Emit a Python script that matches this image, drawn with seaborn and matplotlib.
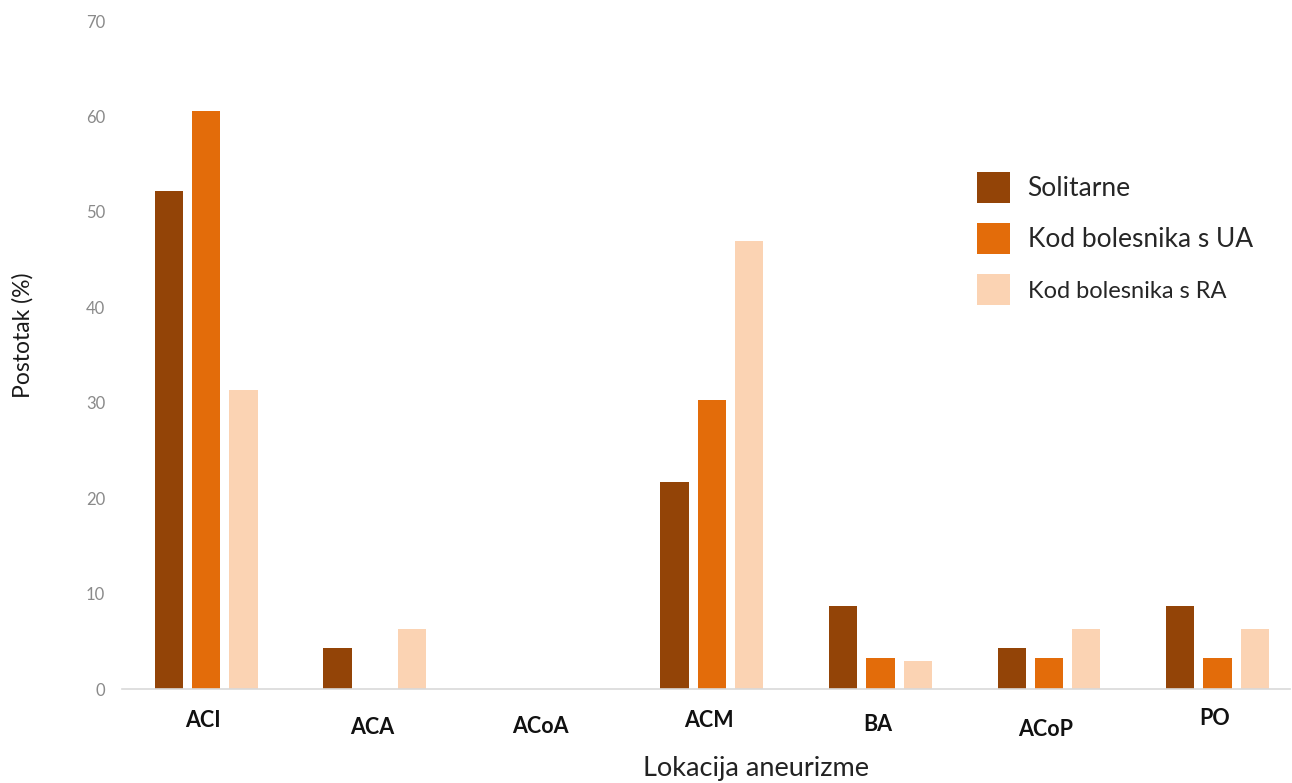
import matplotlib
matplotlib.use("Agg")
import matplotlib.pyplot as plt
from matplotlib.transforms import ScaledTranslation
import seaborn as sns
import pandas as pd

# Aneurysm locations and share of aneurysms (%) per patient group
locations = ["ACI", "ACA", "ACoA", "ACM", "BA", "ACoP", "PO"]
solitarne = [52.2, 4.3, 0.0, 21.7, 8.7, 4.3, 8.7]
kod_ua = [60.6, 0.0, 0.0, 30.3, 3.2, 3.2, 3.2]
kod_ra = [31.3, 6.3, 0.0, 46.9, 2.9, 6.3, 6.3]
series_names = ["Solitarne", "Kod bolesnika s UA", "Kod bolesnika s RA"]
colors = ["#934407", "#E36C0A", "#FBD3B3"]

df = pd.DataFrame({
    "Lokacija": locations * 3,
    "Postotak": solitarne + kod_ua + kod_ra,
    "Skupina": [s for s in series_names for _ in locations],
})

sns.set_theme(style="white")
plt.rcParams["font.family"] = ["Lato", "DejaVu Sans"]

fig = plt.figure(figsize=(12.92, 7.83), dpi=100)
ax = fig.add_axes([122 / 1292, 1 - 689 / 783, (1290 - 122) / 1292, (689 - 21) / 783])

sns.barplot(data=df, x="Lokacija", y="Postotak", hue="Skupina",
            order=locations, hue_order=series_names,
            palette=colors, width=0.664, gap=0.24, ax=ax,
            saturation=1, linewidth=0, legend=True)

ax.set_ylim(0, 70)
ax.set_xlim(-0.50, 6.43)
ax.set_yticks(range(0, 71, 10))
ax.tick_params(axis="y", colors="#8a8a8a", labelsize=12, length=0, pad=12)
ax.tick_params(axis="x", length=0, pad=14)
for lbl in ax.get_xticklabels():
    lbl.set_fontweight("bold")
    lbl.set_fontsize(15.5)
    lbl.set_color("#111111")

# slight vertical offsets of the category labels
offsets = [2, 9, 8, 2, 6, 11, 0]
for lbl, dy in zip(ax.get_xticklabels(), offsets):
    lbl.set_transform(lbl.get_transform() + ScaledTranslation(-3 / 100, -dy / 100, fig.dpi_scale_trans))

for side in ["top", "right", "left"]:
    ax.spines[side].set_visible(False)
ax.spines["bottom"].set_color("#d9d9d9")
ax.spines["bottom"].set_linewidth(1.2)

ax.set_xlabel("Lokacija aneurizme", fontsize=19.5, color="#222222")
ax.xaxis.set_label_coords(0.543, -0.101)
ax.set_ylabel("Postotak (%)", fontsize=16.5, color="#1a1a1a")
ax.yaxis.set_label_coords(-0.076, 0.53)

handles, labels = ax.get_legend_handles_labels()
leg = ax.legend(handles, labels, loc="upper left", bbox_to_anchor=(0.712, 0.81),
                frameon=False, handlelength=1.25, handleheight=1.45,
                handletextpad=0.65, labelspacing=0.75, fontsize=19)
for txt, size in zip(leg.get_texts(), [19, 19, 17]):
    txt.set_fontsize(size)
    txt.set_color("#262626")

fig.savefig("out.png", dpi=100)
